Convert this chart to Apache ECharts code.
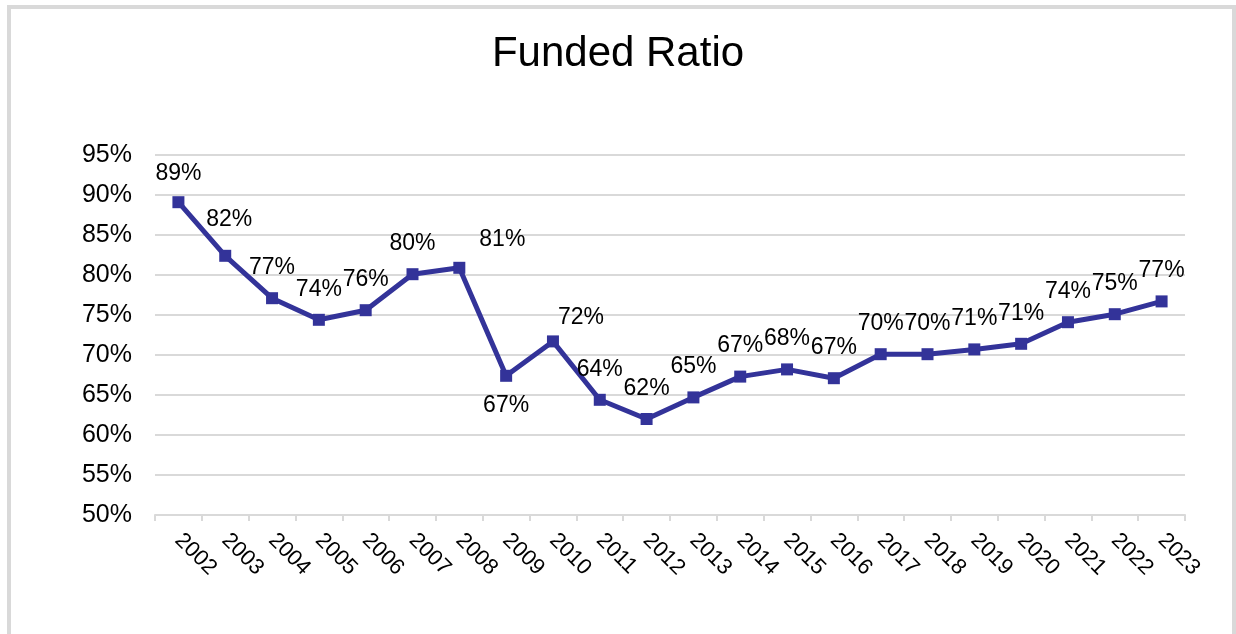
<!DOCTYPE html>
<html>
<head>
<meta charset="utf-8">
<script src="https://cdn.jsdelivr.net/npm/echarts@6/dist/echarts.min.js"></script>
<style>
html,body{margin:0;padding:0;background:#fff;}
#chart{width:1236px;height:634px;}
</style>
</head>
<body>
<div id="chart"></div>
<script>
const years = ['2002','2003','2004','2005','2006','2007','2008','2009','2010','2011','2012','2013','2014','2015','2016','2017','2018','2019','2020','2021','2022','2023'];
const fundedRatio = [89.1, 82.4, 77.1, 74.4, 75.6, 80.1, 80.9, 67.4, 71.7, 64.4, 62.0, 64.7, 67.3, 68.2, 67.1, 70.1, 70.1, 70.7, 71.4, 74.1, 75.1, 76.7];
const yTicks = [50, 55, 60, 65, 70, 75, 80, 85, 90, 95];

// label placement tweaks (style only, keyed by data index)
const labelShift = {0: [0, 2], 1: [4, -6], 6: [43, 2], 7: [0, 60], 8: [28, 7]};

const chart = echarts.init(document.getElementById('chart'), null, {renderer: 'canvas'});
const font = '"Liberation Sans", Arial, sans-serif';
chart.setOption({
  animation: false,
  backgroundColor: '#ffffff',
  title: {
    text: 'Funded Ratio',
    left: 'center',
    top: 28,
    textStyle: {fontFamily: font, fontSize: 42, fontWeight: 'normal', color: '#000'}
  },
  graphic: [{
    type: 'rect',
    shape: {x: 9, y: 7, width: 1225, height: 700},
    style: {fill: 'none', stroke: '#d9d9d9', lineWidth: 4},
    silent: true
  }],
  grid: {left: 155, right: 51, top: 155, bottom: 119, containLabel: false},
  xAxis: {
    type: 'category',
    data: years,
    boundaryGap: true,
    axisLine: {lineStyle: {color: '#d9d9d9', width: 2}},
    axisTick: {show: true, length: 6, lineStyle: {color: '#d9d9d9', width: 2}},
    axisLabel: {rotate: -45, margin: 22, fontFamily: font, fontSize: 22, color: '#000', interval: 0}
  },
  yAxis: {
    type: 'value',
    min: yTicks[0],
    max: yTicks[yTicks.length - 1],
    interval: 5,
    axisLine: {show: false},
    axisTick: {show: false},
    splitLine: {lineStyle: {color: '#d9d9d9', width: 2}},
    axisLabel: {margin: 23, fontFamily: font, fontSize: 25, color: '#000', formatter: v => v + '%'}
  },
  series: [{
    type: 'line',
    data: fundedRatio,
    symbol: 'rect',
    symbolSize: 12,
    itemStyle: {color: '#333399'},
    lineStyle: {color: '#333399', width: 5},
    label: {
      show: true,
      position: 'top',
      distance: 13,
      fontFamily: font,
      fontSize: 23,
      color: '#000',
      formatter: p => Math.round(p.value) + '%'
    },
    labelLayout: function (params) {
      const s = labelShift[params.dataIndex];
      return s ? {dx: s[0], dy: s[1], hideOverlap: false} : {hideOverlap: false};
    }
  }]
});
</script>
</body>
</html>
